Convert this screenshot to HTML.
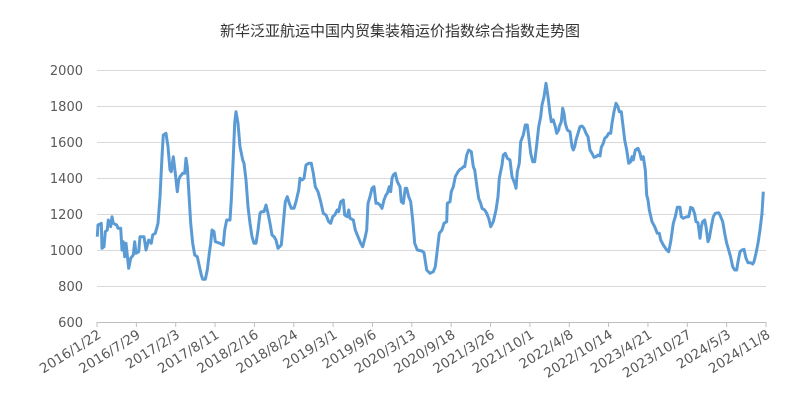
<!DOCTYPE html>
<html><head><meta charset="utf-8"><style>
body{margin:0;background:#fff;}
svg text{font-family:"DejaVu Sans","Noto Sans CJK SC",sans-serif;}
</style></head><body>
<svg id="s" width="800" height="400" xmlns="http://www.w3.org/2000/svg">
<text x="400" y="36" text-anchor="middle" font-size="15" fill="#333" style="font-family:'Liberation Sans','Noto Sans CJK SC',sans-serif">新华泛亚航运中国内贸集装箱运价指数综合指数走势图</text>
<g id="grid" stroke="#d9d9d9" stroke-width="1"></g>
<g id="yl" font-size="13" fill="#595959" text-anchor="end"></g>
<g id="xl" font-size="13.5" fill="#595959" text-anchor="end"></g>
<polyline id="ln" fill="none" stroke="#5b9bd5" stroke-width="3" stroke-linejoin="round"/>
</svg>
<script>
var ns="http://www.w3.org/2000/svg";
function el(t,a,p,txt){var e=document.createElementNS(ns,t);for(var k in a)e.setAttribute(k,a[k]);if(txt)e.textContent=txt;document.getElementById(p).appendChild(e);}
for(var i=0;i<8;i++){var y=70+i*36;el('line',{x1:97,x2:766,y1:y+0.5,y2:y+0.5,stroke:i==7?'#bfbfbf':'#d9d9d9'},'grid');el('text',{x:83,y:y+5},'yl',String(2000-i*200));}
var labs=["2016/1/22","2016/7/29","2017/2/3","2017/8/11","2018/2/16","2018/8/24","2019/3/1","2019/9/6","2020/3/13","2020/9/18","2021/3/26","2021/10/1","2022/4/8","2022/10/14","2023/4/21","2023/10/27","2024/5/3","2024/11/8"];
for(var i=0;i<labs.length;i++){var x=97+i*669/17;el('line',{x1:x,x2:x,y1:322,y2:327,stroke:'#bfbfbf'},'grid');var ax=x+5,ay=337;el('text',{x:ax,y:ay,transform:'rotate(-32 '+ax+' '+ay+')'},'xl',labs[i]);}
var a=[22,440,24,405,34,400,36,475,42,470,46,425,52,420,55,390,60,400,62,410,66,380,70,400,80,405,84,415,92,415,96,480,100,455,104,500,108,460,116,535,122,505,130,495,134,455,138,490,146,485,150,440,162,440,168,480,176,450,184,460,188,435,196,430,204,400,210,320,216,200,220,135,228,130,234,170,240,240,244,245,250,200,256,250,262,305,266,270,270,260,278,250,284,250,288,205,292,230,296,300,302,400,308,460,314,495,322,500,326,520,334,555,338,568,346,568,352,540,358,490,362,460,366,420,372,425,376,455,390,460,400,465,404,420,410,390,420,390,424,330,430,200,434,100,438,65,444,100,450,170,458,210,462,220,468,270,474,350,480,400,486,440,492,460,498,460,504,420,510,370,514,365,522,365,528,345,534,370,540,400,546,435,552,440,558,450,564,475,574,465,580,400,586,335,592,320,598,340,604,355,612,355,618,335,626,300,630,265,636,270,642,265,648,225,656,220,664,220,670,250,676,290,684,305,692,335,700,370,708,375,716,395,722,400,728,380,734,375,742,360,746,365,752,335,760,330,764,375,772,380,776,360,780,385,790,390,796,420,804,440,812,460,818,470,826,440,830,420,834,340,840,320,846,295,852,290,858,340,864,340,870,345,876,355,882,330,888,315,892,310,898,290,902,305,906,265,910,255,916,250,922,275,930,290,934,335,940,340,946,295,950,295,956,320,962,335,968,390,974,460,982,480,996,483];
var b=[12,548,20,600,30,610,40,605,46,590,52,540,58,490,66,480,72,460,80,455,82,400,90,395,94,365,100,350,106,320,114,305,120,298,126,295,130,290,134,290,140,255,146,240,154,245,160,290,164,300,170,345,176,385,182,400,186,415,194,420,200,430,206,445,212,470,220,455,228,420,234,380,238,325,246,285,250,255,256,250,262,265,270,270,276,320,284,340,288,355,292,305,298,280,302,215,310,195,316,165,322,165,326,200,332,250,338,275,344,275,350,225,356,170,362,140,366,105,372,80,378,40,384,80,390,130,394,155,400,150,406,170,410,190,416,180,418,170,424,155,428,115,432,130,436,160,442,180,450,185,456,230,460,240,464,230,468,210,474,190,480,170,486,168,492,175,498,190,504,200,510,240,516,250,522,262,528,260,534,255,540,258,544,232,550,220,554,205,560,200,566,190,572,190,576,160,582,125,588,100,594,110,598,125,604,125,608,160,614,210,620,240,626,280,632,275,636,260,640,270,646,240,654,235,660,250,664,268,670,260,676,300,680,375,684,390,688,420,696,455,704,470,712,490,718,490,722,510,730,525,740,540,746,545,752,515,760,460,766,440,772,412,780,412,784,440,790,445,800,440,806,440,812,412,818,415,824,432,828,455,834,458,840,505,844,470,848,455,854,450,858,470,864,515,868,505,874,470,880,440,886,430,896,428,900,435,908,455,914,490,920,520,926,540,932,562,938,590,944,600,950,600,954,575,960,545,966,540,972,538,978,565,984,578,992,578,998,582,1002,575,1008,550,1014,520,1020,480,1026,430,1030,365];
var pts=[];
for(var i=0;i<a.length;i+=2)pts.push((90+a[i]/3).toFixed(1)+','+(90+a[i+1]/3).toFixed(1));
for(var i=0;i<b.length;i+=2)pts.push((420+b[i]/3).toFixed(1)+','+(70+b[i+1]/3).toFixed(1));
document.getElementById('ln').setAttribute('points',pts.join(' '));
</script>
</body></html>
